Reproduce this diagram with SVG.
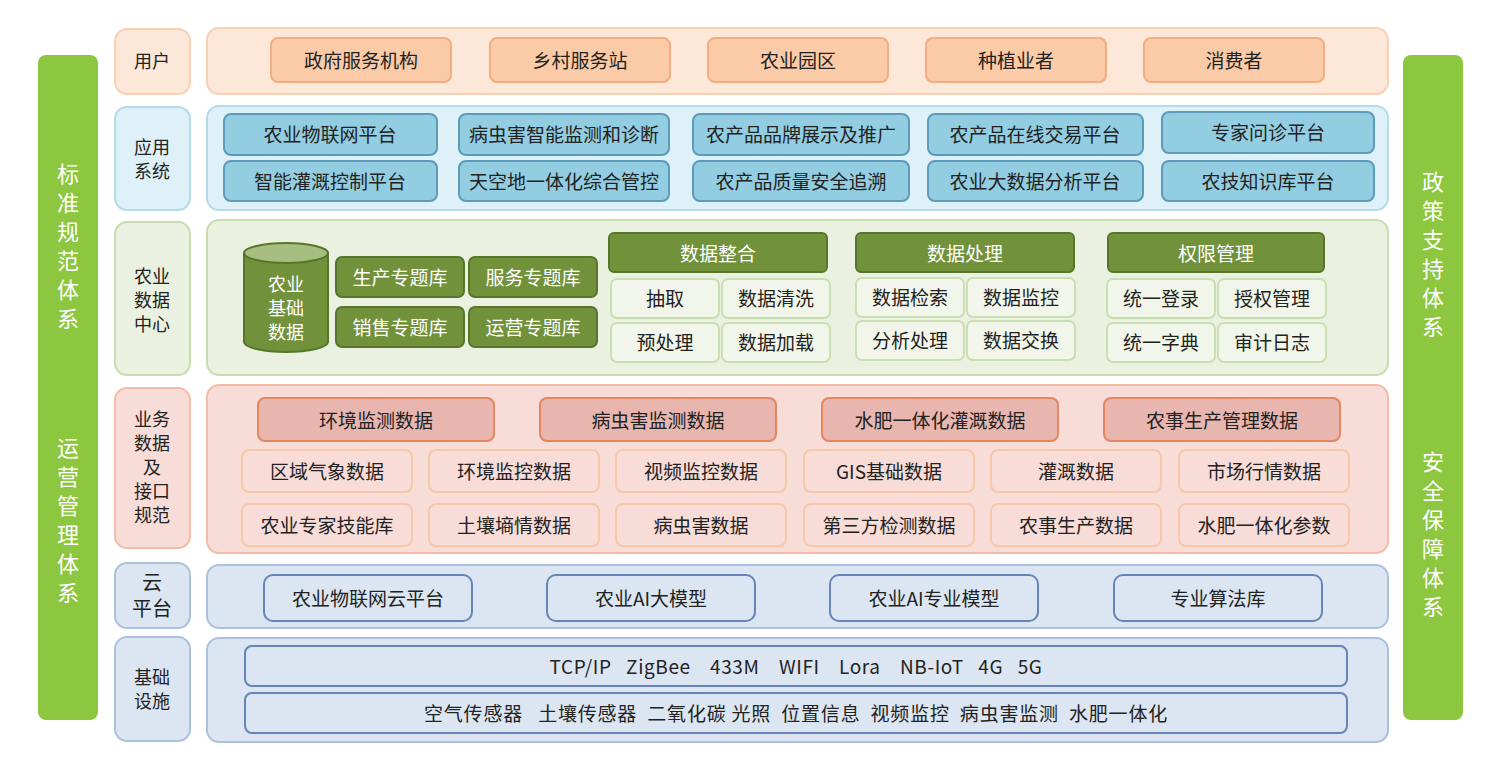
<svg xmlns="http://www.w3.org/2000/svg" width="1500" height="760" viewBox="0 0 1500 760">
<style>
text{font-family:"Noto Sans CJK SC","Liberation Sans",sans-serif;font-size:19px;fill:#222;text-anchor:middle;dominant-baseline:central}
.lab{font-size:18px}
.w{fill:#fff}
.side{fill:#8dc63f}
.sideT{fill:#fff;font-size:22px}
.p1{fill:#fde7d9;stroke:#f9d0b4;stroke-width:2}
.i1{fill:#fbcba8;stroke:#f2ae80;stroke-width:2}
.p2{fill:#def0f8;stroke:#b3dbea;stroke-width:2}
.i2{fill:#93cde1;stroke:#5d9bbb;stroke-width:2}
.p3{fill:#ebf1e1;stroke:#c8dcb0;stroke-width:2}
.g{fill:#71923b;stroke:#56762b;stroke-width:2}
.s3{fill:#f2f6ea;stroke:#cadeb4;stroke-width:2}
.p4{fill:#f8dcd8;stroke:#f4bca4;stroke-width:2}
.h4{fill:#e8b5af;stroke:#e2875f;stroke-width:2}
.s4{fill:#f8dcd8;stroke:#f6c8a8;stroke-width:2}
.p5{fill:#dce6f2;stroke:#abc1de;stroke-width:2}
.i5{fill:#dce6f2;stroke:#6684b8;stroke-width:2}
</style>
<rect width="1500" height="760" fill="#fff"/>
<g id="side-left"><rect class="side" x="38" y="55" width="60" height="665" rx="8"/>
<text class="sideT"><tspan x="68" y="172">标</tspan><tspan x="68" y="201">准</tspan><tspan x="68" y="230">规</tspan><tspan x="68" y="259">范</tspan><tspan x="68" y="288">体</tspan><tspan x="68" y="317">系</tspan></text>
<text class="sideT"><tspan x="68" y="446">运</tspan><tspan x="68" y="475">营</tspan><tspan x="68" y="504">管</tspan><tspan x="68" y="533">理</tspan><tspan x="68" y="562">体</tspan><tspan x="68" y="591">系</tspan></text></g>
<g id="side-right"><rect class="side" x="1403" y="55" width="60" height="665" rx="8"/>
<text class="sideT"><tspan x="1433" y="180">政</tspan><tspan x="1433" y="209">策</tspan><tspan x="1433" y="238">支</tspan><tspan x="1433" y="267">持</tspan><tspan x="1433" y="296">体</tspan><tspan x="1433" y="325">系</tspan></text>
<text class="sideT"><tspan x="1433" y="460">安</tspan><tspan x="1433" y="489">全</tspan><tspan x="1433" y="518">保</tspan><tspan x="1433" y="547">障</tspan><tspan x="1433" y="576">体</tspan><tspan x="1433" y="605">系</tspan></text></g>

<g id="row-user">
<rect class="p1" x="115" y="29" width="75" height="65" rx="12"/><text class="lab" x="152" y="60">用户</text>
<rect class="p1" x="207" y="28" width="1181" height="66" rx="12"/>
<rect class="i1" x="271" y="38" width="180" height="44" rx="7"/><text x="361" y="59">政府服务机构</text>
<rect class="i1" x="490" y="38" width="180" height="44" rx="7"/><text x="580" y="59">乡村服务站</text>
<rect class="i1" x="708" y="38" width="180" height="44" rx="7"/><text x="798" y="59">农业园区</text>
<rect class="i1" x="926" y="38" width="180" height="44" rx="7"/><text x="1016" y="59">种植业者</text>
<rect class="i1" x="1144" y="38" width="180" height="44" rx="7"/><text x="1234" y="59">消费者</text>
</g>

<g id="row-app">
<rect class="p2" x="115" y="107" width="75" height="103" rx="12"/>
<text class="lab" x="152" y="146">应用</text><text class="lab" x="152" y="170">系统</text>
<rect class="p2" x="207" y="106" width="1181" height="104" rx="12"/>
<rect class="i2" x="224" y="114" width="213" height="41" rx="7"/><text x="330" y="133">农业物联网平台</text>
<rect class="i2" x="459" y="114" width="210" height="41" rx="7"/><text x="564" y="133">病虫害智能监测和诊断</text>
<rect class="i2" x="693" y="114" width="216" height="41" rx="7"/><text x="801" y="133">农产品品牌展示及推广</text>
<rect class="i2" x="928" y="114" width="215" height="41" rx="7"/><text x="1035" y="133">农产品在线交易平台</text>
<rect class="i2" x="1162" y="112" width="212" height="41" rx="7"/><text x="1268" y="131">专家问诊平台</text>
<rect class="i2" x="224" y="161" width="213" height="40" rx="7"/><text x="330" y="180">智能灌溉控制平台</text>
<rect class="i2" x="459" y="161" width="210" height="40" rx="7"/><text x="564" y="180">天空地一体化综合管控</text>
<rect class="i2" x="693" y="161" width="216" height="40" rx="7"/><text x="801" y="180">农产品质量安全追溯</text>
<rect class="i2" x="928" y="161" width="215" height="40" rx="7"/><text x="1035" y="180">农业大数据分析平台</text>
<rect class="i2" x="1162" y="161" width="212" height="40" rx="7"/><text x="1268" y="180">农技知识库平台</text>
</g>

<g id="row-datacenter">
<rect class="p3" x="115" y="222" width="75" height="153" rx="12"/>
<text class="lab" x="152" y="275">农业</text><text class="lab" x="152" y="299">数据</text><text class="lab" x="152" y="323">中心</text>
<rect class="p3" x="207" y="220" width="1181" height="155" rx="12"/>
<path class="g" d="M244,253 L244,342 A42,10 0 0 0 328,342 L328,253"/>
<ellipse cx="286" cy="253" rx="42" ry="10" fill="#a6be80" stroke="#56762b" stroke-width="2"/>
<text class="w lab" x="286" y="283">农业</text><text class="w lab" x="286" y="307">基础</text><text class="w lab" x="286" y="331">数据</text>
<rect class="g" x="336" y="257" width="128" height="40" rx="6"/><text class="w" x="400" y="276">生产专题库</text>
<rect class="g" x="469" y="257" width="128" height="40" rx="6"/><text class="w" x="533" y="276">服务专题库</text>
<rect class="g" x="336" y="307" width="128" height="40" rx="6"/><text class="w" x="400" y="326">销售专题库</text>
<rect class="g" x="469" y="307" width="128" height="40" rx="6"/><text class="w" x="533" y="326">运营专题库</text>
<rect class="g" x="609" y="233" width="218" height="39" rx="5"/><text class="w" x="718" y="252">数据整合</text>
<rect class="g" x="856" y="233" width="218" height="39" rx="5"/><text class="w" x="965" y="252">数据处理</text>
<rect class="g" x="1108" y="233" width="216" height="39" rx="5"/><text class="w" x="1216" y="252">权限管理</text>
<rect class="s3" x="611" y="279" width="108" height="39" rx="6"/><text x="665" y="297">抽取</text>
<rect class="s3" x="722" y="279" width="108" height="39" rx="6"/><text x="776" y="297">数据清洗</text>
<rect class="s3" x="611" y="323" width="108" height="39" rx="6"/><text x="665" y="341">预处理</text>
<rect class="s3" x="722" y="323" width="108" height="39" rx="6"/><text x="776" y="341">数据加载</text>
<rect class="s3" x="856" y="278" width="108" height="39" rx="6"/><text x="910" y="296">数据检索</text>
<rect class="s3" x="967" y="278" width="108" height="39" rx="6"/><text x="1021" y="296">数据监控</text>
<rect class="s3" x="856" y="321" width="108" height="39" rx="6"/><text x="910" y="339">分析处理</text>
<rect class="s3" x="967" y="321" width="108" height="39" rx="6"/><text x="1021" y="339">数据交换</text>
<rect class="s3" x="1107" y="279" width="108" height="39" rx="6"/><text x="1161" y="297">统一登录</text>
<rect class="s3" x="1218" y="279" width="108" height="39" rx="6"/><text x="1272" y="297">授权管理</text>
<rect class="s3" x="1107" y="323" width="108" height="39" rx="6"/><text x="1161" y="341">统一字典</text>
<rect class="s3" x="1218" y="323" width="108" height="39" rx="6"/><text x="1272" y="341">审计日志</text>
</g>

<g id="row-business">
<rect class="p4" x="115" y="388" width="75" height="160" rx="12"/>
<text class="lab" x="152" y="418">业务</text><text class="lab" x="152" y="442">数据</text><text class="lab" x="152" y="466">及</text><text class="lab" x="152" y="490">接口</text><text class="lab" x="152" y="514">规范</text>
<rect class="p4" x="207" y="385" width="1181" height="168" rx="12"/>
<rect class="h4" x="258" y="398" width="236" height="43" rx="7"/><text x="376" y="419">环境监测数据</text>
<rect class="h4" x="540" y="398" width="236" height="43" rx="7"/><text x="658" y="419">病虫害监测数据</text>
<rect class="h4" x="822" y="398" width="236" height="43" rx="7"/><text x="940" y="419">水肥一体化灌溉数据</text>
<rect class="h4" x="1104" y="398" width="236" height="43" rx="7"/><text x="1222" y="419">农事生产管理数据</text>
<rect class="s4" x="242" y="450" width="170" height="42" rx="7"/><text x="327" y="470">区域气象数据</text>
<rect class="s4" x="429" y="450" width="170" height="42" rx="7"/><text x="514" y="470">环境监控数据</text>
<rect class="s4" x="616" y="450" width="170" height="42" rx="7"/><text x="701" y="470">视频监控数据</text>
<rect class="s4" x="804" y="450" width="170" height="42" rx="7"/><text x="889" y="470">GIS基础数据</text>
<rect class="s4" x="991" y="450" width="170" height="42" rx="7"/><text x="1076" y="470">灌溉数据</text>
<rect class="s4" x="1179" y="450" width="170" height="42" rx="7"/><text x="1264" y="470">市场行情数据</text>
<rect class="s4" x="242" y="504" width="170" height="42" rx="7"/><text x="327" y="524">农业专家技能库</text>
<rect class="s4" x="429" y="504" width="170" height="42" rx="7"/><text x="514" y="524">土壤墒情数据</text>
<rect class="s4" x="616" y="504" width="170" height="42" rx="7"/><text x="701" y="524">病虫害数据</text>
<rect class="s4" x="804" y="504" width="170" height="42" rx="7"/><text x="889" y="524">第三方检测数据</text>
<rect class="s4" x="991" y="504" width="170" height="42" rx="7"/><text x="1076" y="524">农事生产数据</text>
<rect class="s4" x="1179" y="504" width="170" height="42" rx="7"/><text x="1264" y="524">水肥一体化参数</text>
</g>

<g id="row-cloud">
<rect class="p5" x="115" y="563" width="75" height="65" rx="12"/>
<text style="font-size:20px" x="152" y="581">云</text><text style="font-size:20px" x="152" y="607">平台</text>
<rect class="p5" x="207" y="565" width="1181" height="63" rx="12"/>
<rect class="i5" x="264" y="575" width="208" height="46" rx="9"/><text x="368" y="597">农业物联网云平台</text>
<rect class="i5" x="547" y="575" width="208" height="46" rx="9"/><text x="651" y="597">农业AI大模型</text>
<rect class="i5" x="830" y="575" width="208" height="46" rx="9"/><text x="934" y="597">农业AI专业模型</text>
<rect class="i5" x="1114" y="575" width="208" height="46" rx="9"/><text x="1218" y="597">专业算法库</text>
</g>

<g id="row-infra">
<rect class="p5" x="115" y="637" width="75" height="104" rx="12"/>
<text class="lab" x="152" y="676">基础</text><text class="lab" x="152" y="700">设施</text>
<rect class="p5" x="207" y="638" width="1181" height="104" rx="12"/>
<rect class="i5" x="245" y="646" width="1102" height="40" rx="7"/><text x="796" y="665" xml:space="preserve" style="letter-spacing:0.6px">TCP/IP   ZigBee    433M    WIFI    Lora    NB-IoT   4G   5G</text>
<rect class="i5" x="245" y="693" width="1102" height="40" rx="7"/><text x="796" y="712" xml:space="preserve" style="letter-spacing:0.8px">空气传感器   土壤传感器  二氧化碳 光照  位置信息  视频监控  病虫害监测  水肥一体化</text>
</g>
<g id="connectors"/>
</svg>
